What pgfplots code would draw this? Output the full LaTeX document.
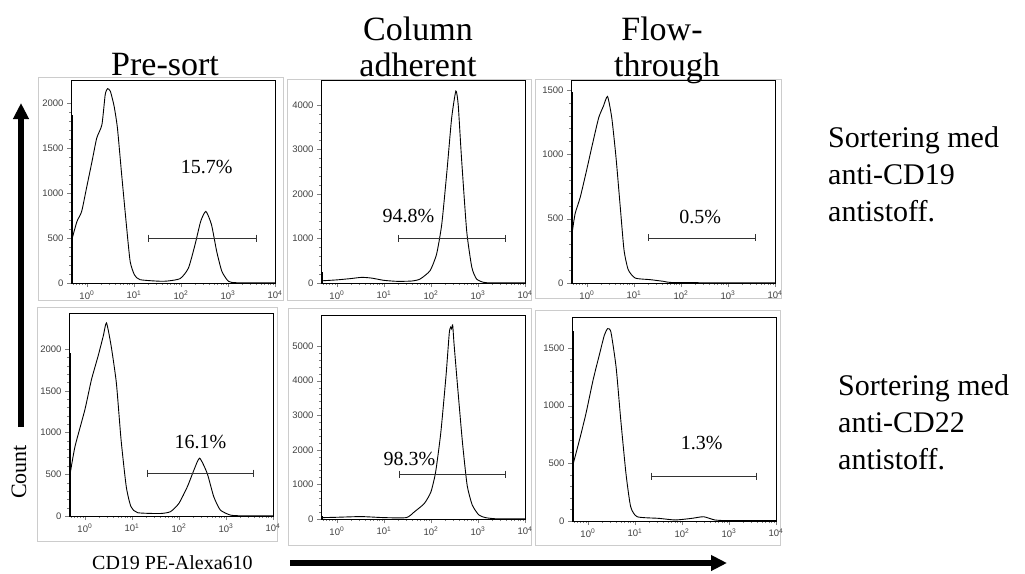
\documentclass[border=0pt]{standalone}
\usepackage{fontspec}
\setmainfont{Liberation Serif}
\newfontfamily\arial{Liberation Sans}
\usepackage{pgfplots}
\pgfplotsset{compat=1.18}
\usetikzlibrary{arrows.meta}

% common settings for all six histograms
\pgfplotsset{
  xmin=0.46, xmax=10000, ymin=0,
  width=204pt, height=203pt, scale only axis,
  axis line style={line width=0.8pt},
  tick align=outside, tick pos=left,
  major tick length=4pt, minor tick length=2pt,
  xtick={1,10,100,1000,10000},
  xticklabels={10\textsuperscript{0},10\textsuperscript{1},10\textsuperscript{2},10\textsuperscript{3},10\textsuperscript{4}},
  minor xtick={0.5,0.6,0.7,0.8,0.9,2,3,4,5,6,7,8,9,20,30,40,50,60,70,80,90,200,300,400,500,600,700,800,900,2000,3000,4000,5000,6000,7000,8000,9000},
  minor y tick num=4,
  tick label style={font=\arial\fontsize{9.5}{10}\selectfont, text=black!75},
  yticklabel style={/pgf/number format/assume math mode=true, /pgf/number format/1000 sep={}},
}
\tikzset{
  facscurve/.style={black, line width=0.9pt, smooth, tension=0.35},
  facsspike/.style={black, line width=1.6pt},
  facsgate/.style={black!80, line width=0.6pt, mark=|, mark size=3.5pt, mark options={line width=0.6pt}},
  facspct/.style={font=\fontsize{20}{20}\selectfont},
}

\begin{document}
\begin{tikzpicture}
\path[use as bounding box] (0pt,0pt) rectangle (1025pt,-573pt);

% light frames round each panel
\begin{scope}[gray!40, line width=1pt]
  \draw (38pt,-77pt) rectangle (283pt,-300pt);
  \draw (287pt,-79pt) rectangle (531pt,-300pt);
  \draw (535pt,-79pt) rectangle (781pt,-298pt);
  \draw (37pt,-307pt) rectangle (277pt,-541pt);
  \draw (288pt,-308pt) rectangle (531pt,-545pt);
  \draw (535pt,-310pt) rectangle (780pt,-545pt);
\end{scope}

% top row: anti-CD19
\begin{semilogxaxis}[at={(71pt,-80pt)}, anchor=north west, ymax=2256, ytick={0,500,1000,1500,2000}]
  \addplot[facsspike] coordinates {(0.485,0) (0.485,1870)};
  \addplot[facscurve] coordinates {(0.49,500) (0.617,685) (0.776,796) (1,1074) (1.288,1352) (1.622,1611) (2.089,1759) (2.455,2093) (2.754,2160) (3.162,2130) (3.802,1963) (4.467,1722) (5.495,1204) (6.918,648) (8.318,241) (10.23,93) (13.49,37) (42.66,19) (95.5,48) (144.5,167) (199.5,426) (263,685) (338.8,796) (446.7,648) (575.4,352) (741.3,130) (1023,19) (1549,3) (10000,3)};
  \addplot[facsgate] coordinates {(20,500) (4000,500)};
  \node[facspct] at (axis cs:355,1290) {15.7\%};
\end{semilogxaxis}

\begin{semilogxaxis}[at={(321pt,-80pt)}, anchor=north west, ymax=4560, ytick={0,1000,2000,3000,4000}]
  \addplot[facsspike] coordinates {(0.485,0) (0.485,240)};
  \addplot[facscurve] coordinates {(0.49,50) (1,70) (2,100) (3.388,127) (5.5,110) (10,60) (19.5,37) (40,45) (58.9,90) (95.5,275) (131.8,648) (169.8,1318) (218.8,2510) (275.4,3700) (338.8,4313) (380.2,4000) (446.7,2808) (575.4,1170) (741.3,350) (933.3,90) (1318,15) (2000,3) (10000,3)};
  \addplot[facsgate] coordinates {(20.4,1000) (3890,1000)};
  \node[facspct] at (axis cs:33.2,1497) {94.8\%};
\end{semilogxaxis}

\begin{semilogxaxis}[at={(571pt,-80pt)}, anchor=north west, ymax=1577, ytick={0,500,1000,1500}]
  \addplot[facsspike] coordinates {(0.485,0) (0.485,1480)};
  \addplot[facscurve] coordinates {(0.49,397) (0.562,538) (0.724,667) (1,885) (1.288,1064) (1.778,1282) (2.239,1372) (2.754,1449) (3.388,1282) (4.169,974) (5.129,590) (6.166,256) (7.586,103) (10.72,38) (22.39,26) (42.66,13) (80,3) (10000,2)};
  \addplot[facsgate] coordinates {(20.4,350) (3890,350)};
  \node[facspct] at (axis cs:257,515) {0.5\%};
\end{semilogxaxis}

% bottom row: anti-CD22
\begin{semilogxaxis}[at={(69pt,-313pt)}, anchor=north west, ymax=2431, ytick={0,500,1000,1500,2000}]
  \addplot[facsspike] coordinates {(0.485,0) (0.485,1950)};
  \addplot[facscurve] coordinates {(0.49,515) (0.617,832) (1,1272) (1.380,1632) (1.905,1912) (2.455,2152) (2.884,2312) (3.631,2032) (4.677,1592) (5.888,912) (7.586,352) (9.55,112) (13.18,40) (40,30) (66.07,52) (100,152) (151.4,352) (208.9,552) (275.4,692) (398.1,512) (549.5,232) (758.6,72) (1230,12) (2000,3) (10000,3)};
  \addplot[facsgate] coordinates {(20.9,515) (3800,515)};
  \node[facspct] at (axis cs:288,886) {16.1\%};
\end{semilogxaxis}

\begin{semilogxaxis}[at={(321pt,-315pt)}, anchor=north west, height=204pt, ymax=5900, ytick={0,1000,2000,3000,4000,5000}]
  \addplot[facsspike] coordinates {(0.485,0) (0.485,100)};
  \addplot[facscurve] coordinates {(0.49,40) (1,50) (3,70) (5,60) (10,40) (30,40) (44.67,210) (72.44,450) (100,785) (125.9,1360) (162.2,2500) (208.9,4130) (245.5,5380) (263,5550) (275.4,5500) (290,5617) (309,5090) (363.1,3940) (467.7,2220) (588.8,976) (758.6,400) (1047,115) (1445,40) (2500,5) (10000,5)};
  \addplot[facsgate] coordinates {(21.5,1300) (3900,1300)};
  \node[facspct] at (axis cs:35,1740) {98.3\%};
\end{semilogxaxis}

\begin{semilogxaxis}[at={(572pt,-317pt)}, anchor=north west, height=204pt, ymax=1768, ytick={0,500,1000,1500}]
  \addplot[facsspike] coordinates {(0.485,0) (0.485,1650)};
  \addplot[facscurve] coordinates {(0.49,499) (0.661,700) (0.912,932) (1.288,1220) (1.778,1450) (2.239,1610) (2.630,1667) (3.090,1638) (3.981,1335) (5.012,874) (6.457,412) (8.128,124) (11.22,37) (32.36,23) (72.44,9) (162.2,23) (288.4,37) (501.2,9) (1000,3) (10000,3)};
  \addplot[facsgate] coordinates {(22.4,390) (3890,390)};
  \node[facspct] at (axis cs:263,672) {1.3\%};
\end{semilogxaxis}

% column titles
\begin{scope}[every node/.style={anchor=base, font=\fontsize{34}{34}\selectfont}]
  \node at (165pt,-75pt) {Pre-sort};
  \node at (418pt,-40pt) {Column};
  \node at (418pt,-76pt) {adherent};
  \node at (662pt,-40pt) {Flow-};
  \node at (667pt,-76pt) {through};
\end{scope}

% row labels
\begin{scope}[every node/.style={anchor=base west, inner sep=0pt, font=\fontsize{30}{30}\selectfont}]
  \node at (828pt,-147pt) {Sortering med};
  \node at (828pt,-184pt) {anti-CD19};
  \node at (828pt,-221pt) {antistoff.};
  \node at (838pt,-395pt) {Sortering med};
  \node at (838pt,-432pt) {anti-CD22};
  \node at (838pt,-469pt) {antistoff.};
\end{scope}

% axis captions and arrows
\draw[line width=6pt, -{Triangle[length=16pt,width=15pt]}] (21pt,-427pt) -- (21pt,-103pt);
\node[rotate=90, font=\fontsize{22}{22}\selectfont] at (19pt,-472pt) {Count};
\draw[line width=6pt, -{Triangle[length=16pt,width=15pt]}] (290pt,-563pt) -- (727pt,-563pt);
\node[anchor=base west, inner sep=0pt, font=\fontsize{20}{20}\selectfont] at (92pt,-569pt) {CD19 PE-Alexa610};
\end{tikzpicture}
\end{document}
